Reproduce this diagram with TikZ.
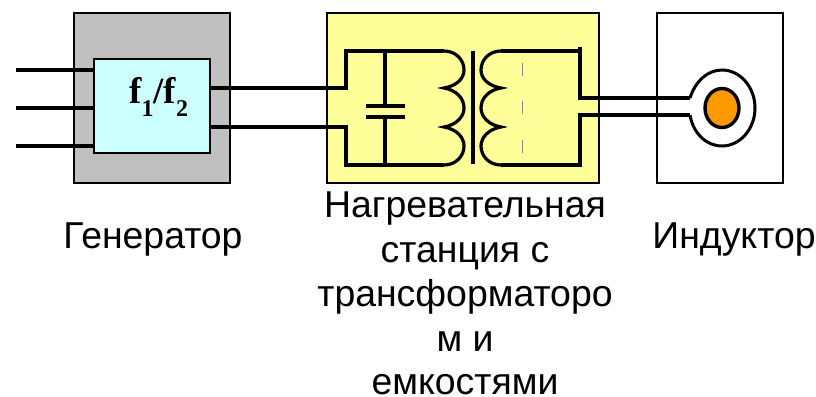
\documentclass[tikz,border=0pt]{standalone}
\usetikzlibrary{shapes.geometric}
\usepackage{fontspec}
\setmainfont{Liberation Sans}
\newfontfamily\serifbf[Ligatures=TeX]{Liberation Serif}
\definecolor{genGray}{HTML}{C0C0C0}
\definecolor{genCyan}{HTML}{CCFFFF}
\definecolor{stYellow}{HTML}{FFFF99}
\definecolor{coreOrange}{HTML}{FF9900}
\tikzset{
  x=1pt,y=-1pt,
  panel/.style={draw=black,line width=2pt,inner sep=0pt,outer sep=0pt},
  wire/.style={draw=black,line width=3.6pt,line cap=butt,line join=miter},
  coilw/.style={draw=black,line width=3.2pt},
  lab/.style={font=\fontsize{37.4}{45}\selectfont,align=center,inner sep=0pt,text=black}
}
\begin{document}
\begin{tikzpicture}
\useasboundingbox (0,0) rectangle (816,396);
% panels
\node[panel,fill=genGray,minimum width=156pt,minimum height=170pt] (gen) at (152,98) {};
\node[panel,fill=stYellow,minimum width=272pt,minimum height=170pt] (st) at (463,98) {};
\node[panel,fill=white,minimum width=126pt,minimum height=170pt] (ind) at (720,98) {};
\node[panel,fill=genCyan,minimum width=116pt,minimum height=94pt] (conv) at (152,106) {};
\node[inner sep=0pt,anchor=base west,font=\serifbf\bfseries\fontsize{37}{37}\selectfont] (ftext) at (129,103)
  {f\raisebox{-13pt}{\fontsize{24}{24}\selectfont 1}/f\raisebox{-13pt}{\fontsize{24}{24}\selectfont 2}};
% input wires
\coordinate (in1) at (16,70); \coordinate (in2) at (16,108); \coordinate (in3) at (16,146);
\draw[wire] (in1) -- (in1 -| conv.west);
\draw[wire] (in2) -- (in2 -| conv.west);
\draw[wire] (in3) -- (in3 -| conv.west);
% primary circuit
\coordinate (pa) at (346,88); \coordinate (pb) at (346,127);
\coordinate (ptop) at (346,51); \coordinate (pbot) at (346,165);
\coordinate (lt) at (444,51); \coordinate (lb) at (444,165);
\coordinate (capt) at (385,51); \coordinate (capb) at (385,165);
\coordinate (l1) at (444,88); \coordinate (l2) at (444,127);
\draw[wire] (conv.east |- pa) -- (pa) -- (ptop) -- (lt);
\draw[wire] (conv.east |- pb) -- (pb) -- (pbot) -- (lb);
% capacitor
\coordinate (pl1) at (385,106); \coordinate (pl2) at (385,117);
\draw[wire] (capt) -- (pl1);
\draw[wire] (capb) -- (pl2);
\draw[draw=black,line width=3.6pt] (366,106) -- (405,106);
\draw[draw=black,line width=3.6pt] (366,117) -- (405,117);
% primary coil
\draw[coilw] (lt) .. controls (456,51) and (464,60) .. (464,70) .. controls (464,79) and (456,86) .. (l1)
  .. controls (456,90) and (464,98) .. (464,108) .. controls (464,117) and (456,125) .. (l2)
  .. controls (456,129) and (464,137) .. (464,146) .. controls (464,156) and (456,165) .. (lb);
% core
\coordinate (cT) at (473,51); \coordinate (cB) at (473,164);
\draw[draw=black,line width=3.8pt] (cT) -- (cB);
% secondary coil
\coordinate (rt) at (501,51); \coordinate (rb) at (501,165);
\coordinate (r1) at (501,88); \coordinate (r2) at (501,127);
\draw[coilw] (rt) .. controls (489,51) and (481,60) .. (481,70) .. controls (481,79) and (489,86) .. (r1)
  .. controls (489,90) and (481,98) .. (481,108) .. controls (481,117) and (489,125) .. (r2)
  .. controls (489,129) and (481,137) .. (481,146) .. controls (481,156) and (489,165) .. (rb);
% secondary circuit
\coordinate (st1) at (580,47); \coordinate (st2) at (580,98);
\coordinate (sb1) at (580,167); \coordinate (sb2) at (580,115);
\coordinate (o1) at (690,98); \coordinate (o2) at (690,115);
\draw[wire] (rt) -- (st1 |- rt);
\draw[wire] (rb) -- (sb1 |- rb);
\draw[wire] (st1) -- (st2);
\draw[wire] (sb1) -- (sb2);
\draw[draw=black,line width=3.2pt] (578.2,98) -- (o1);
\draw[draw=black,line width=3.2pt] (578.2,115) -- (o2);
% faint dashes
\foreach \ya/\yb in {63/76,101/114,140/153}
  \draw[draw=black!45,line width=.6pt] (522.5,\ya) -- (522.5,\yb);
% inductor loop
\coordinate (cc) at (722,108);
\draw[draw=black,line width=3pt] (o1) .. controls (695,82) and (707,70) .. (722,70)
  .. controls (740,70) and (755,87) .. (755,108) .. controls (755,129) and (740,146) .. (722,146)
  .. controls (706,146) and (693,133) .. (o2);
\node[ellipse,draw=black,line width=3.4pt,fill=coreOrange,minimum width=34pt,minimum height=39pt,inner sep=0pt] (core) at (cc) {};
% labels
\node[lab,anchor=base] (l-gen) at (153,248) {Генератор};
\node[lab,anchor=base] (l-ind) at (734,248) {Индуктор};
\node[lab,anchor=base] (l-st1) at (465,217) {Нагревательная};
\node[lab,anchor=base] (l-st2) at (465,262) {станция с};
\node[lab,anchor=base] (l-st3) at (465,306) {трансформаторо};
\node[lab,anchor=base] (l-st4) at (465,351) {м и};
\node[lab,anchor=base] (l-st5) at (465,394.5) {емкостями};
\end{tikzpicture}
\end{document}
